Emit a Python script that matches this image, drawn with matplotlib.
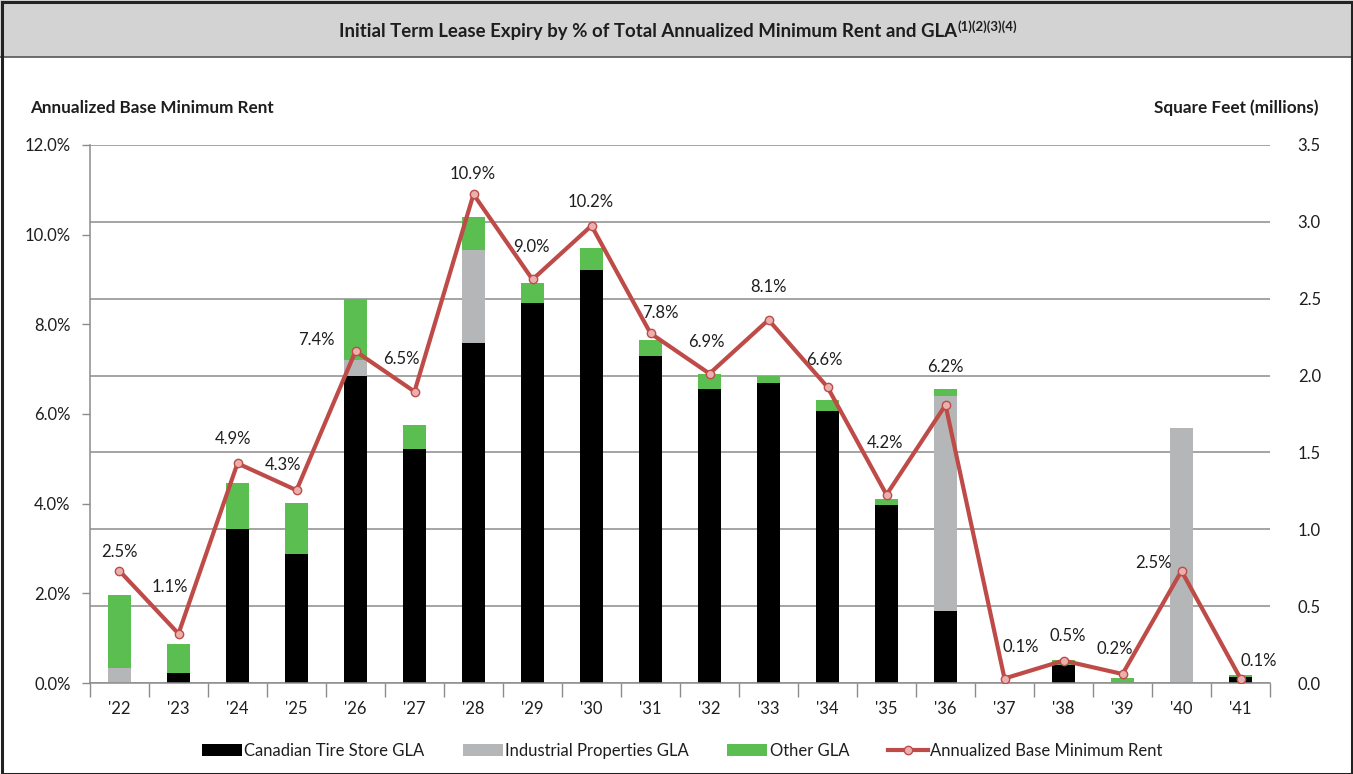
import matplotlib
matplotlib.use("Agg")
import matplotlib.pyplot as plt
from matplotlib.patches import Rectangle, Patch
from matplotlib.lines import Line2D
from matplotlib.text import Annotation
import numpy as np

plt.rcParams['font.family'] = ['Lato', 'DejaVu Sans']

years = ["'22", "'23", "'24", "'25", "'26", "'27", "'28", "'29", "'30", "'31",
         "'32", "'33", "'34", "'35", "'36", "'37", "'38", "'39", "'40", "'41"]

# square feet (millions)
ct_store_gla = [0.0, 0.065, 1.0, 0.84, 2.0, 1.52, 2.21, 2.47, 2.69, 2.13,
                1.91, 1.95, 1.77, 1.16, 0.47, 0.0, 0.12, 0.0, 0.0, 0.04]
industrial_gla = [0.1, 0.0, 0.0, 0.0, 0.1, 0.0, 0.61, 0.0, 0.0, 0.0,
                  0.0, 0.0, 0.0, 0.0, 1.40, 0.0, 0.0, 0.0, 1.66, 0.0]
other_gla = [0.47, 0.19, 0.30, 0.33, 0.40, 0.16, 0.21, 0.13, 0.14, 0.10,
             0.10, 0.05, 0.07, 0.04, 0.04, 0.0, 0.03, 0.03, 0.0, 0.015]

# annualized base minimum rent (%)
base_rent = [2.5, 1.1, 4.9, 4.3, 7.4, 6.5, 10.9, 9.0, 10.2, 7.8,
             6.9, 8.1, 6.6, 4.2, 6.2, 0.1, 0.5, 0.2, 2.5, 0.1]

# hand placed data label offsets (pixels)
label_offsets = [(0, 19), (-9, 47), (-4, 24), (-13, 25), (-39, 11), (-13, 33),
                 (-1, 20), (-1, 32), (-1, 24), (10, 20), (-3, 32), (0, 33),
                 (-3, 27), (-1, 52), (0, 38), (16, 32), (4, 25), (-8, 25),
                 (-28, 8), (18, 18)]

black = '#000000'
grey = '#B4B6B7'
green = '#5BBE50'
red = '#BE4B48'
axis_grey = '#8C8C8C'
txt = '#1E1E1E'

fig = plt.figure(figsize=(13.53, 7.74), dpi=100)
W, H = 1353, 774

# frame + title band
fig.patches.append(Rectangle((0, 1 - 57 / H), 1, 57 / H, transform=fig.transFigure,
                             facecolor='#D3D3D3', edgecolor='none', zorder=0))
fig.add_artist(Line2D([0, 1], [1 - 57 / H] * 2, transform=fig.transFigure,
                      color='#555555', lw=1.2))
fig.patches.append(Rectangle((1.5 / W, 0), 1 - 3 / W, 1 - 1.5 / H, transform=fig.transFigure,
                             facecolor='none', edgecolor='#222222', lw=2.2, zorder=5))

t = fig.text(648 / W, 1 - 31 / H,
             "Initial Term Lease Expiry by % of Total Annualized Minimum Rent and GLA",
             ha='center', va='center', fontsize=13.4, fontweight='bold', color=txt)
sup = Annotation("(1)(2)(3)(4)", xy=(1.0, 1.0), xycoords=t, xytext=(1, 2),
                 textcoords='offset pixels', ha='left', va='top',
                 fontsize=9.5, fontweight='bold', color=txt, annotation_clip=False)
fig.add_artist(sup)

ax_l = fig.add_axes([90 / W, 1 - 683 / H, 1180 / W, 538 / H])
ax_r = ax_l.twinx()
ax_l.set_zorder(ax_r.get_zorder() + 1)
ax_l.patch.set_visible(False)

x = np.arange(len(years))
w = 0.39
bottom2 = np.array(ct_store_gla) + np.array(industrial_gla)
ax_r.bar(x, ct_store_gla, w, color=black, zorder=3)
ax_r.bar(x, industrial_gla, w, bottom=ct_store_gla, color=grey, zorder=3)
ax_r.bar(x, other_gla, w, bottom=bottom2, color=green, zorder=3)
ax_r.set_ylim(0, 3.5)
ax_r.set_yticks(np.arange(0, 3.51, 0.5))
ax_r.set_yticklabels([f"{v:.1f}" for v in np.arange(0, 3.51, 0.5)])
ax_r.yaxis.grid(True, color=axis_grey, lw=1.1)
ax_r.set_axisbelow(True)
ax_r.tick_params(axis='y', length=0, pad=20, labelsize=12, labelcolor=txt)
for s in ax_r.spines.values():
    s.set_visible(False)

ax_l.plot(x, base_rent, color=red, lw=3, marker='o', markersize=6,
          markerfacecolor='#E9B0AE', markeredgecolor=red, markeredgewidth=1, zorder=4)
for i, v in enumerate(base_rent):
    dx, dy = label_offsets[i]
    ax_l.annotate(f"{v:.1f}%", (x[i], v), xytext=(dx, dy), textcoords='offset pixels',
                  ha='center', va='center', fontsize=12, color=txt)

ax_l.set_ylim(0, 12)
ax_l.set_yticks(np.arange(0, 12.1, 2))
ax_l.set_yticklabels([f"{v:.1f}%" for v in np.arange(0, 12.1, 2)])
ax_l.set_xlim(-0.5, len(years) - 0.5)
ax_l.set_xticks(np.arange(-0.5, len(years), 1))
ax_l.set_xticklabels([])
ax_l.set_xticks(x, minor=True)
ax_l.set_xticklabels(years, minor=True)
ax_l.tick_params(axis='x', which='major', length=10, width=1, color=axis_grey)
ax_l.tick_params(axis='x', which='minor', length=0, pad=13, labelsize=12, labelcolor=txt)
ax_l.tick_params(axis='y', length=6, width=1, color=axis_grey, pad=8,
                 labelsize=12, labelcolor=txt)
for s in ['top', 'right']:
    ax_l.spines[s].set_visible(False)
for s in ['left', 'bottom']:
    ax_l.spines[s].set_color(axis_grey)
    ax_l.spines[s].set_linewidth(1.1)

fig.text(30 / W, 1 - 108 / H, "Annualized Base Minimum Rent", ha='left', va='center',
         fontsize=12.3, fontweight='bold', color=txt)
fig.text(1318 / W, 1 - 108 / H, "Square Feet (millions)", ha='right', va='center',
         fontsize=12.3, fontweight='bold', color=txt)

handles = [Patch(facecolor=black, label='Canadian Tire Store GLA'),
           Patch(facecolor=grey, label='Industrial Properties GLA'),
           Patch(facecolor=green, label='Other GLA'),
           Line2D([], [], color=red, lw=3, marker='o', markersize=6,
                  markerfacecolor='#E9B0AE', markeredgecolor=red,
                  label='Annualized Base Minimum Rent')]
fig.legend(handles=handles, loc='center', bbox_to_anchor=(682 / W, 1 - 751 / H),
           ncol=4, frameon=False, fontsize=12, handlelength=2.4, handletextpad=0.15,
           columnspacing=2.3, labelcolor=txt)

fig.savefig('out.png', dpi=100)
